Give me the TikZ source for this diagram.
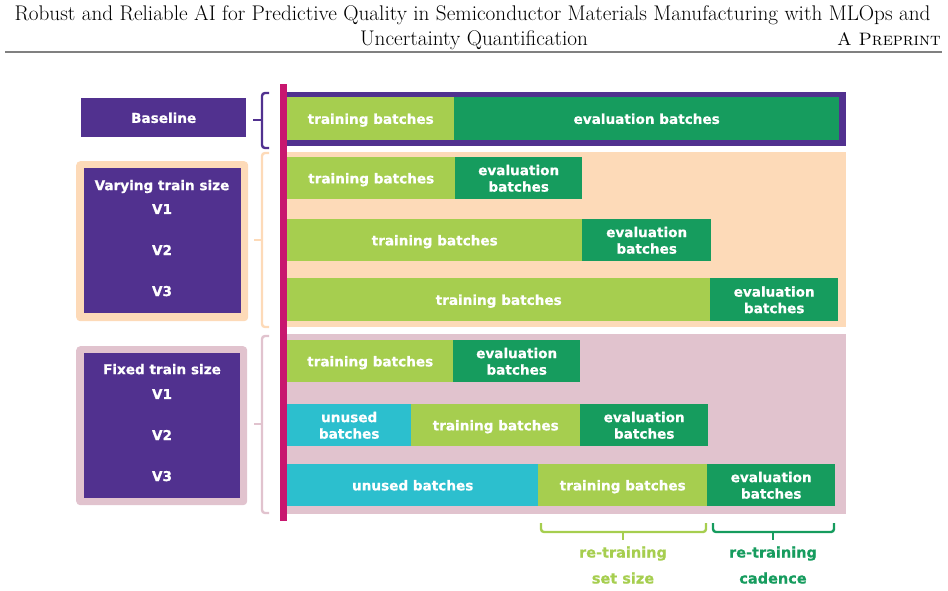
\documentclass[tikz,border=0pt]{standalone}
\usepackage{fontspec}
\newfontfamily\dvfont{DejaVu Sans}[BoldFeatures={FakeBold=0.6}]
\definecolor{cpurple}{HTML}{51318F}
\definecolor{cmag}{HTML}{C8176F}
\definecolor{clgreen}{HTML}{A6CE4F}
\definecolor{cdgreen}{HTML}{169C5E}
\definecolor{ccyan}{HTML}{2CBFCE}
\definecolor{cpeach}{HTML}{FDDAB8}
\definecolor{cpink}{HTML}{E1C3CE}
\definecolor{crule}{HTML}{808080}
\tikzset{
  bar/.style={anchor=north west, inner sep=0pt, text=white, align=center, text depth=0pt,
    font=\dvfont\bfseries\fontsize{13.6}{16.5}\selectfont},
  tb/.style={bar, fill=clgreen},
  eb/.style={bar, fill=cdgreen},
  ub/.style={bar, fill=ccyan},
  lbl/.style={inner sep=0pt, text=white, text depth=0pt, font=\dvfont\bfseries\fontsize{13.6}{16.5}\selectfont},
  brace/.style={line width=2.4pt, rounded corners=3pt},
  blabel/.style={inner sep=0pt, text depth=0pt, font=\dvfont\bfseries\fontsize{14.5}{17}\selectfont},
  hdr/.style={inner sep=0pt, font=\fontsize{21.2}{26}\selectfont}
}
\begin{document}
\begin{tikzpicture}[x=1pt,y=-1pt]
\useasboundingbox (0,0) rectangle (948,590);
% header
\node[hdr, anchor=base] (h1) at (472.5,20) {Robust and Reliable AI for Predictive Quality in Semiconductor Materials Manufacturing with MLOps and};
\node[hdr, anchor=base] (h2) at (474,45) {Uncertainty Quantification};
\node[hdr, anchor=base east, font=\fontsize{18}{22}\selectfont] (h3) at (941,45) {\textsc{A Preprint}};
\draw[crule, line width=2pt] (5,52) -- (942,52);
% backgrounds
\fill[cpurple] (287,92) rectangle (846,146);
\fill[cpeach] (287,152) rectangle (846,327);
\fill[cpink] (287,334) rectangle (846,514);
% baseline row
\node[tb, minimum width=167, minimum height=43] (b1) at (287,97) {training batches};
\node[eb, minimum width=385, minimum height=43] (b2) at (454,97) {evaluation batches};
% varying
\node[tb, minimum width=168, minimum height=42] (v1t) at (287,157) {training batches};
\node[eb, minimum width=127, minimum height=42] (v1e) at (455,157) {evaluation\\batches};
\node[tb, minimum width=295, minimum height=42] (v2t) at (287,219) {training batches};
\node[eb, minimum width=129, minimum height=42] (v2e) at (582,219) {evaluation\\batches};
\node[tb, minimum width=423, minimum height=43] (v3t) at (287,278) {training batches};
\node[eb, minimum width=128, minimum height=43] (v3e) at (710,278) {evaluation\\batches};
% fixed
\node[tb, minimum width=166, minimum height=42] (f1t) at (287,340) {training batches};
\node[eb, minimum width=127, minimum height=42] (f1e) at (453,340) {evaluation\\batches};
\node[ub, minimum width=124, minimum height=42] (f2u) at (287,404) {unused\\batches};
\node[tb, minimum width=169, minimum height=42] (f2t) at (411,404) {training batches};
\node[eb, minimum width=128, minimum height=42] (f2e) at (580,404) {evaluation\\batches};
\node[ub, minimum width=251, minimum height=42] (f3u) at (287,464) {unused batches};
\node[tb, minimum width=169, minimum height=42] (f3t) at (538,464) {training batches};
\node[eb, minimum width=128, minimum height=42] (f3e) at (707,464) {evaluation\\batches};
% magenta bar
\fill[cmag] (280,84) rectangle (287,521);
% left boxes
\node[fill=cpurple, anchor=north west, inner sep=0pt, minimum width=165, minimum height=39] (base) at (81,98) {};
\node[lbl] (baset) at (base.center) {Baseline};
\node[fill=cpeach, rounded corners=4pt, anchor=north west, inner sep=0pt, minimum width=172, minimum height=160] (varo) at (76,161) {};
\node[fill=cpurple, anchor=north west, inner sep=0pt, minimum width=157, minimum height=145] (vari) at (84,168) {};
\node[lbl] (vart) at (162,185) {Varying train size};
\node[lbl] (var1) at (162,209) {V1};
\node[lbl] (var2) at (162,250) {V2};
\node[lbl] (var3) at (162,291) {V3};
\node[fill=cpink, rounded corners=4pt, anchor=north west, inner sep=0pt, minimum width=171, minimum height=159] (fixo) at (76,346) {};
\node[fill=cpurple, anchor=north west, inner sep=0pt, minimum width=156, minimum height=145] (fixi) at (84,353) {};
\node[lbl] (fixt) at (162,369) {Fixed train size};
\node[lbl] (fix1) at (162,394) {V1};
\node[lbl] (fix2) at (162,435) {V2};
\node[lbl] (fix3) at (162,476) {V3};
% left braces
\draw[brace, cpurple] (269,93) -- (262,93) -- (262,148) -- (269,148);
\draw[cpurple, line width=2.4pt] (262,120) -- (253,120);
\draw[brace, cpeach] (269,153) -- (262,153) -- (262,327) -- (269,327);
\draw[cpeach, line width=2.4pt] (262,240) -- (254,240);
\draw[brace, cpink] (269,336) -- (262,336) -- (262,513) -- (269,513);
\draw[cpink, line width=2.4pt] (262,424) -- (254,424);
% bottom braces
\draw[brace, clgreen] (541,523) -- (541,532) -- (706,532) -- (706,523);
\draw[clgreen, line width=2.4pt] (623,532) -- (623,540);
\draw[brace, cdgreen] (713,523) -- (713,532) -- (834,532) -- (834,523);
\draw[cdgreen, line width=2.4pt] (773,532) -- (773,540);
\node[blabel, text=clgreen] (l1) at (623,552) {re-training};
\node[blabel, text=clgreen] (l2) at (623,578) {set size};
\node[blabel, text=cdgreen] (l3) at (773,552) {re-training};
\node[blabel, text=cdgreen] (l4) at (773,578) {cadence};
\end{tikzpicture}
\end{document}
